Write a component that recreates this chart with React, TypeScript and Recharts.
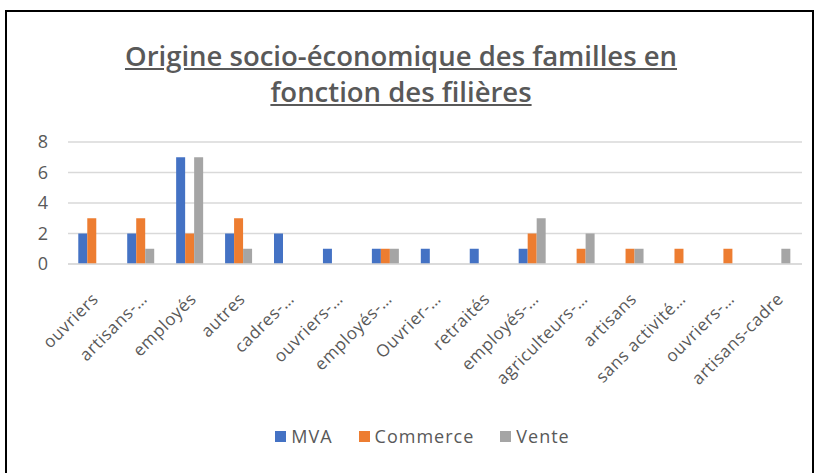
import { BarChart, Bar, XAxis, YAxis, CartesianGrid, Legend } from 'recharts';

const categories = [
  'ouvriers', 'artisans-…', 'employés', 'autres', 'cadres-…', 'ouvriers-…', 'employés-…', 'Ouvrier-…',
  'retraités', 'employés-…', 'agriculteurs-…', 'artisans', 'sans activité…', 'ouvriers-…', 'artisans-cadre',
];
const mva = [2, 2, 7, 2, 2, 1, 1, 1, 1, 1, 0, 0, 0, 0, 0];
const commerce = [3, 3, 2, 3, 0, 0, 1, 0, 0, 2, 1, 1, 1, 1, 0];
const vente = [0, 1, 7, 1, 0, 0, 1, 0, 0, 3, 2, 1, 0, 0, 1];
const yTicks = [0, 2, 4, 6, 8];
const seriesNames = ['MVA', 'Commerce', 'Vente'];
const seriesColors = ['#4472C4', '#ED7D31', '#A5A5A5'];

const data = categories.map((c, i) => ({ name: c, key: `${c}-${i}`, MVA: mva[i], Commerce: commerce[i], Vente: vente[i] }));

const FONT = '"Open Sans", "Noto Sans", sans-serif';
const GREY = '#595959';

const AngledTick = ({ x, y, payload }: any) => {
  const label = categories[payload.index] ?? payload.value;
  const ax = x + 7;
  const ay = y + 28;
  return (
    <text x={ax} y={ay} transform={`rotate(-45 ${ax} ${ay})`} textAnchor="end" fontSize={17} letterSpacing={0.6} fill={GREY} fontFamily={FONT}>
      {label}
    </text>
  );
};

const LegendBox = () => (
  <div style={{ display: 'flex', justifyContent: 'center', gap: 26, fontFamily: FONT, fontSize: 18, color: GREY, letterSpacing: 1 }}>
    {seriesNames.map((n, i) => (
      <span key={n} style={{ display: 'flex', alignItems: 'center' }}>
        <span style={{ display: 'inline-block', width: 11, height: 11, background: seriesColors[i], marginRight: 5 }} />
        {n}
      </span>
    ))}
  </div>
);

export default function App() {
  return (
    <div style={{ position: 'absolute', left: 0, top: 0, width: 817, height: 473, background: '#fff', overflow: 'hidden' }}>
      <div style={{ position: 'absolute', left: 5, top: 10, width: 805, height: 470, border: '2px solid #000' }} />
      <div style={{ position: 'absolute', left: 0, top: 38, width: 802, textAlign: 'center', fontFamily: FONT, fontSize: 27.5, fontWeight: 600, color: GREY, textDecoration: 'underline', lineHeight: '36px' }}>
        Origine socio-économique des familles en
        <br />
        fonction des filières
      </div>
      <div style={{ position: 'absolute', left: 0, top: 0 }}>
        <BarChart width={817} height={473} data={data} margin={{ top: 142, right: 15, left: 0, bottom: 0 }} barCategoryGap="21%" barGap={0}>
          <CartesianGrid vertical={false} stroke="#d9d9d9" strokeWidth={1.5} />
          <XAxis dataKey="key" interval={0} height={209} tickLine={false} axisLine={{ stroke: '#d9d9d9', strokeWidth: 1.5 }} tick={<AngledTick />} />
          <YAxis domain={[0, 8]} ticks={yTicks} width={68} axisLine={false} tickLine={false} tickMargin={14} tick={{ fontSize: 18, fill: GREY, fontFamily: FONT }} />
          <Legend verticalAlign="middle" align="center" content={<LegendBox />}
            wrapperStyle={{ top: 424, left: 0, width: 845 }} />
          <Bar dataKey="MVA" fill={seriesColors[0]} isAnimationActive={false} />
          <Bar dataKey="Commerce" fill={seriesColors[1]} isAnimationActive={false} />
          <Bar dataKey="Vente" fill={seriesColors[2]} isAnimationActive={false} />
        </BarChart>
      </div>
    </div>
  );
}
